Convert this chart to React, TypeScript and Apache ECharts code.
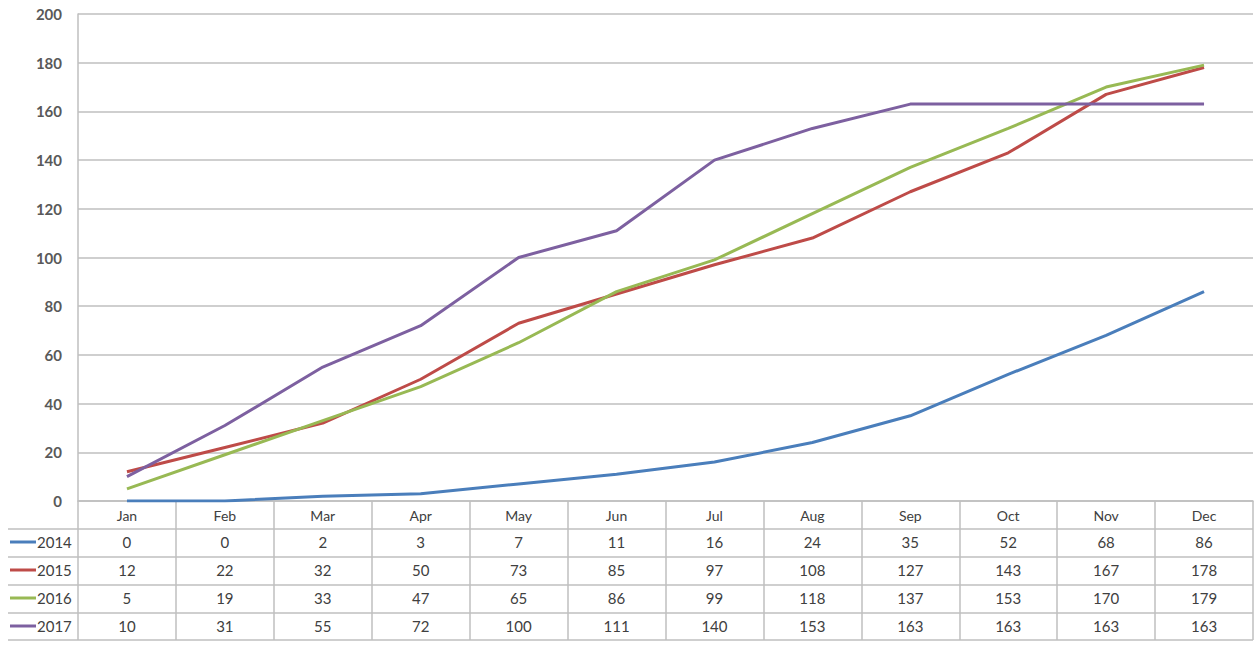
import React, { useEffect, useRef } from "react";
import * as echarts from "echarts";

const months = ["Jan", "Feb", "Mar", "Apr", "May", "Jun", "Jul", "Aug", "Sep", "Oct", "Nov", "Dec"];
const seriesNames = ["2014", "2015", "2016", "2017"];
const values2014 = [0, 0, 2, 3, 7, 11, 16, 24, 35, 52, 68, 86];
const values2015 = [12, 22, 32, 50, 73, 85, 97, 108, 127, 143, 167, 178];
const values2016 = [5, 19, 33, 47, 65, 86, 99, 118, 137, 153, 170, 179];
const values2017 = [10, 31, 55, 72, 100, 111, 140, 153, 163, 163, 163, 163];
const colors = ["#4A7EBB", "#BE4B48", "#98B954", "#7D60A0"];

const W = 1254;
const H = 646;
const GRID_LEFT = 78;
const GRID_TOP = 14;
const GRID_BOTTOM_Y = 501;
const ROW_H = 28;
const TABLE_LEFT = 8;
const GRAY = "#BFBFBF";
const TEXT = "#404040";
const FONT = "Lato, 'Open Sans', sans-serif";

export default function App() {
  const ref = useRef<HTMLDivElement>(null);

  useEffect(() => {
    const chart = echarts.init(ref.current!, null, { renderer: "svg" });
    const allValues = [values2014, values2015, values2016, values2017];

    chart.setOption({
      animation: false,
      grid: { left: GRID_LEFT, right: 1, top: GRID_TOP, bottom: H - GRID_BOTTOM_Y },
      xAxis: {
        type: "category",
        data: months,
        boundaryGap: true,
        axisLine: { show: true, lineStyle: { color: GRAY, width: 1.5 } },
        axisTick: { show: true, interval: 0, length: H - GRID_BOTTOM_Y - 6, lineStyle: { color: GRAY, width: 1.5 } },
        axisLabel: { margin: 7, fontSize: 14, color: TEXT, fontFamily: FONT },
      },
      yAxis: {
        type: "value",
        min: 0,
        max: 200,
        interval: 20,
        axisLine: { show: true, lineStyle: { color: GRAY, width: 1.5 } },
        axisTick: { show: false },
        axisLabel: { margin: 16, fontSize: 15, color: "#595959", fontWeight: "bold", fontFamily: FONT },
        splitLine: { lineStyle: { color: GRAY, width: 1.5 } },
      },
      series: allValues.map((v, i) => ({
        name: seriesNames[i],
        type: "line",
        data: v,
        symbol: "none",
        lineStyle: { width: 3, color: colors[i] },
        itemStyle: { color: colors[i] },
      })),
    });

    // Data table underneath the plot: one row per series, cells aligned with the category axis.
    const headerBottom = GRID_BOTTOM_Y + ROW_H;
    const elements: any[] = [];
    for (let r = 0; r <= seriesNames.length; r++) {
      const y = headerBottom + r * ROW_H - (r === seriesNames.length ? 1 : 0);
      elements.push({
        type: "line",
        shape: { x1: TABLE_LEFT, y1: y, x2: W - 1, y2: y },
        style: { stroke: GRAY, lineWidth: 1.5 },
      });
    }
    seriesNames.forEach((name, r) => {
      const cy = headerBottom + r * ROW_H + ROW_H / 2 - 1;
      elements.push({
        type: "line",
        shape: { x1: 10, y1: cy, x2: 36, y2: cy },
        style: { stroke: colors[r], lineWidth: 3 },
      });
      elements.push({
        type: "text",
        x: 37,
        y: cy,
        style: { text: name, fontSize: 15, fill: TEXT, fontFamily: FONT, align: "left", verticalAlign: "middle" },
      });
      allValues[r].forEach((v, c) => {
        const px = chart.convertToPixel({ xAxisIndex: 0 }, months[c]) as number;
        elements.push({
          type: "text",
          x: px,
          y: cy,
          style: { text: String(v), fontSize: 15, fill: TEXT, fontFamily: FONT, align: "center", verticalAlign: "middle" },
        });
      });
    });
    chart.setOption({ graphic: { elements } });

    return () => chart.dispose();
  }, []);

  return <div ref={ref} style={{ position: "fixed", left: 0, top: 0, width: W, height: H, background: "#fff" }} />;
}
